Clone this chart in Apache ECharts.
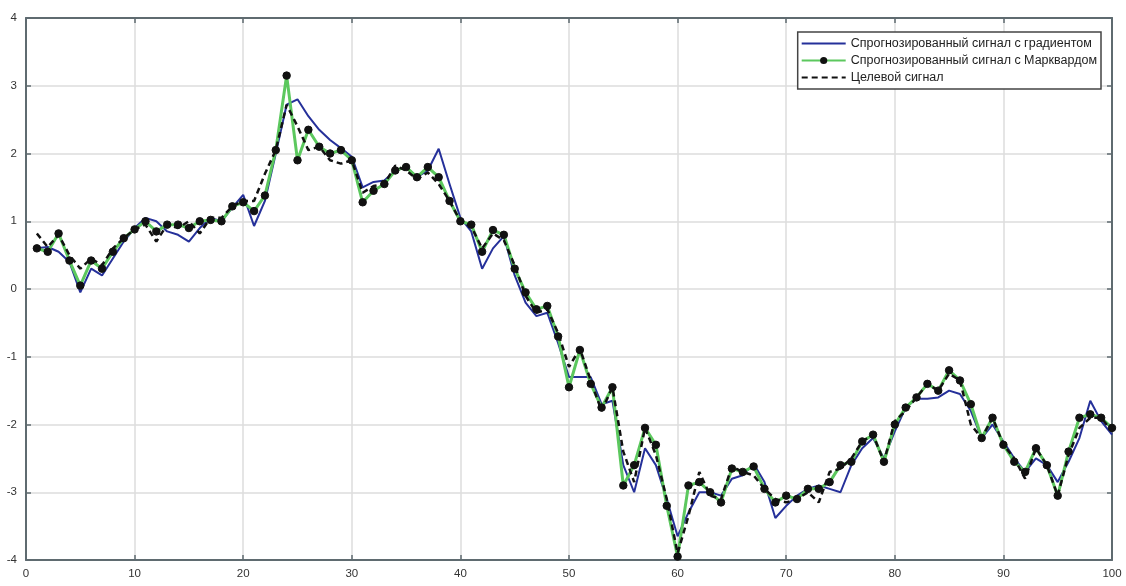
<!DOCTYPE html>
<html>
<head>
<meta charset="utf-8">
<script src="https://cdn.jsdelivr.net/npm/echarts@6/dist/echarts.min.js"></script>
<style>
  html, body { margin: 0; padding: 0; background: #ffffff; }
  #chart { width: 1126px; height: 586px; }
</style>
</head>
<body>
<div id="chart"></div>
<script>
// Sample index 1..100
const steps = Array.from({ length: 100 }, (_, i) => i + 1);

// Network output trained by gradient descent
const gradientValues = [
  0.60, 0.62, 0.55, 0.40, -0.05, 0.30, 0.20, 0.45, 0.70, 0.90,
  1.05, 1.00, 0.85, 0.80, 0.70, 0.90, 1.05, 1.00, 1.20, 1.39,
  0.93, 1.30, 2.00, 2.72, 2.80, 2.55, 2.35, 2.20, 2.08, 1.95,
  1.50, 1.58, 1.60, 1.75, 1.80, 1.65, 1.75, 2.07, 1.55, 1.05,
  0.85, 0.30, 0.60, 0.78, 0.20, -0.20, -0.40, -0.35, -0.80, -1.30,
  -1.30, -1.30, -1.70, -1.65, -2.60, -3.00, -2.35, -2.60, -3.10, -3.65,
  -3.30, -3.00, -3.00, -3.05, -2.80, -2.75, -2.58, -2.85, -3.38, -3.20,
  -3.05, -2.95, -2.90, -2.95, -3.00, -2.60, -2.35, -2.20, -2.50, -2.10,
  -1.75, -1.62, -1.62, -1.60, -1.50, -1.55, -1.80, -2.20, -2.00, -2.25,
  -2.50, -2.70, -2.50, -2.60, -2.85, -2.55, -2.20, -1.65, -1.95, -2.15
];

// Network output trained by Levenberg–Marquardt
const marquardtValues = [
  0.60, 0.55, 0.82, 0.42, 0.05, 0.42, 0.30, 0.55, 0.75, 0.88,
  1.00, 0.85, 0.95, 0.95, 0.90, 1.00, 1.02, 1.00, 1.22, 1.28,
  1.15, 1.38, 2.05, 3.15, 1.90, 2.35, 2.10, 2.00, 2.05, 1.90,
  1.28, 1.45, 1.55, 1.75, 1.80, 1.65, 1.80, 1.65, 1.30, 1.00,
  0.95, 0.55, 0.87, 0.80, 0.30, -0.05, -0.30, -0.25, -0.70, -1.45,
  -0.90, -1.40, -1.75, -1.45, -2.90, -2.60, -2.05, -2.30, -3.20, -3.95,
  -2.90, -2.85, -3.00, -3.15, -2.65, -2.70, -2.62, -2.95, -3.15, -3.05,
  -3.10, -2.95, -2.95, -2.85, -2.60, -2.55, -2.25, -2.15, -2.55, -2.00,
  -1.75, -1.60, -1.40, -1.50, -1.20, -1.35, -1.70, -2.20, -1.90, -2.30,
  -2.55, -2.70, -2.35, -2.60, -3.05, -2.40, -1.90, -1.85, -1.90, -2.05
];

// Target signal
const targetValues = [
  0.82, 0.62, 0.80, 0.50, 0.30, 0.45, 0.35, 0.60, 0.75, 0.88,
  0.95, 0.70, 0.95, 0.90, 1.00, 0.82, 1.05, 1.05, 1.22, 1.30,
  1.30, 1.70, 2.05, 2.72, 2.40, 2.05, 2.10, 1.90, 1.85, 1.90,
  1.42, 1.52, 1.55, 1.82, 1.75, 1.62, 1.72, 1.55, 1.30, 1.00,
  0.92, 0.60, 0.82, 0.72, 0.35, -0.10, -0.35, -0.30, -0.65, -1.15,
  -0.88, -1.35, -1.80, -1.45, -2.40, -2.85, -2.05, -2.45, -3.10, -3.90,
  -3.35, -2.70, -3.05, -3.10, -2.62, -2.70, -2.75, -2.95, -3.10, -3.15,
  -3.10, -3.00, -3.15, -2.70, -2.65, -2.50, -2.25, -2.15, -2.55, -1.95,
  -1.80, -1.60, -1.40, -1.50, -1.25, -1.35, -2.00, -2.20, -1.90, -2.30,
  -2.50, -2.80, -2.35, -2.60, -3.05, -2.45, -2.05, -1.90, -1.90, -2.10
];

const seriesNames = [
  'Спрогнозированный сигнал с градиентом',
  'Спрогнозированный сигнал с Марквардом',
  'Целевой сигнал'
];

const xTicks = [0, 10, 20, 30, 40, 50, 60, 70, 80, 90, 100];
const yTicks = [-4, -3, -2, -1, 0, 1, 2, 3, 4];

const pairs = vals => steps.map((s, i) => [s, vals[i]]);

const axisGray = '#5f6b70';
const gridGray = '#dcdcdc';
const labelStyle = { color: '#333', fontFamily: 'Liberation Sans, Arial', fontSize: 11.5 };

const chart = echarts.init(document.getElementById('chart'), null, { renderer: 'canvas' });

const baseX = {
  type: 'value', min: xTicks[0], max: xTicks[xTicks.length - 1], interval: 10,
  axisLine: { show: true, onZero: false, lineStyle: { color: axisGray, width: 2 } },
  axisTick: { show: true, inside: true, length: 5, lineStyle: { color: axisGray, width: 1.5 } },
  splitLine: { show: false }
};
const baseY = {
  type: 'value', min: yTicks[0], max: yTicks[yTicks.length - 1], interval: 1,
  axisLine: { show: true, onZero: false, lineStyle: { color: axisGray, width: 2 } },
  axisTick: { show: true, inside: true, length: 5, lineStyle: { color: axisGray, width: 1.5 } },
  splitLine: { show: false }
};

chart.setOption({
  backgroundColor: '#ffffff',
  animation: false,
  grid: { left: 26, right: 14, top: 18, bottom: 26, containLabel: false },
  legend: {
    right: 25, top: 32,
    orient: 'vertical',
    itemWidth: 44, itemHeight: 9, itemGap: 4,
    padding: [5, 4, 5, 3],
    backgroundColor: '#ffffff',
    borderColor: '#444',
    borderWidth: 1.5,
    borderRadius: 0,
    textStyle: { color: '#222', fontFamily: 'Liberation Sans, Arial', fontSize: 12.5 },
    data: [
      { name: seriesNames[0], itemStyle: { opacity: 0 } },
      { name: seriesNames[1] },
      { name: seriesNames[2], itemStyle: { opacity: 0 } }
    ]
  },
  xAxis: [
    Object.assign({}, baseX, {
      position: 'bottom',
      axisLabel: Object.assign({ margin: 8 }, labelStyle),
      splitLine: { show: true, lineStyle: { color: gridGray, width: 1.5 } }
    }),
    Object.assign({}, baseX, { position: 'top', axisLabel: { show: false } })
  ],
  yAxis: [
    Object.assign({}, baseY, {
      position: 'left',
      axisLabel: Object.assign({ margin: 9 }, labelStyle),
      splitLine: { show: true, lineStyle: { color: gridGray, width: 1.5 } }
    }),
    Object.assign({}, baseY, { position: 'right', axisLabel: { show: false } })
  ],
  series: [
    {
      name: seriesNames[0], type: 'line', data: pairs(gradientValues),
      symbol: 'none', smooth: false,
      lineStyle: { color: '#25309a', width: 2 },
      itemStyle: { color: '#25309a' },
      z: 2
    },
    {
      name: seriesNames[1], type: 'line', data: pairs(marquardtValues),
      symbol: 'circle', symbolSize: 7.5, showAllSymbol: true,
      lineStyle: { color: '#5cc85e', width: 3 },
      itemStyle: { color: '#111', borderColor: '#111' },
      z: 3
    },
    {
      name: seriesNames[2], type: 'line', data: pairs(targetValues),
      symbol: 'none',
      lineStyle: { color: '#111', width: 2.5, type: [6, 4] },
      itemStyle: { color: '#111' },
      z: 4
    }
  ]
});
</script>
</body>
</html>
